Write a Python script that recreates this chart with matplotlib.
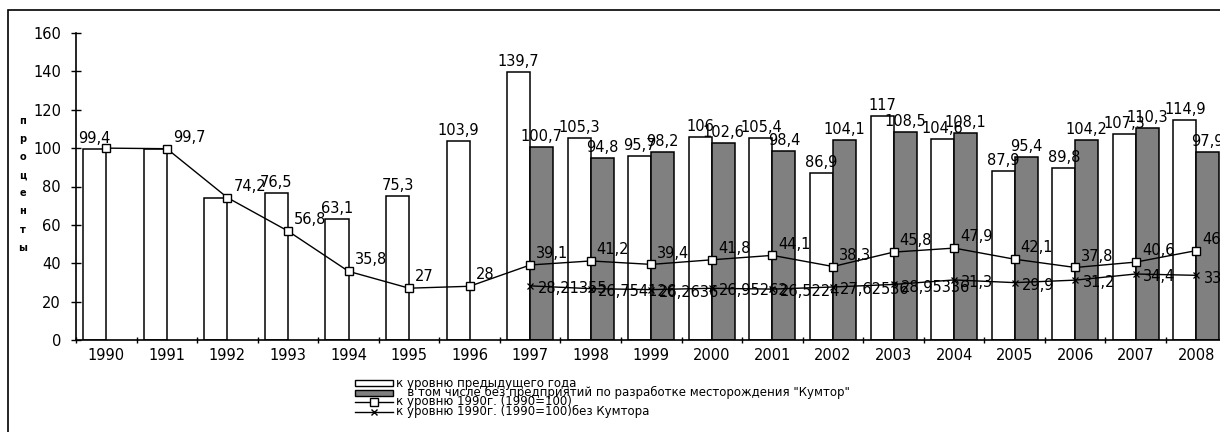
import numpy as np
import matplotlib
matplotlib.use('Agg')
import matplotlib.pyplot as plt
from matplotlib.patches import Rectangle
from matplotlib.lines import Line2D

plt.rcParams['font.family'] = 'DejaVu Sans'

# данные
years = ['1990', '1991', '1992', '1993', '1994', '1995', '1996', '1997', '1998', '1999',
         '2000', '2001', '2002', '2003', '2004', '2005', '2006', '2007', '2008']
prev_year = [99.4, 99.7, 74.2, 76.5, 63.1, 75.3, 103.9, 139.7, 105.3, 95.7,
             106.0, 105.4, 86.9, 117.0, 104.6, 87.9, 89.8, 107.3, 114.9]
prev_year_hidden = ['1991', '1992']          # подписи, которых нет на графике
kumtor_years = years[7:]
no_kumtor = [100.7, 94.8, 98.2, 102.6, 98.4, 104.1, 108.5, 108.1, 95.4, 104.2, 110.3, 97.9]
index_1990 = [100, 99.7, 74.2, 56.8, 35.8, 27, 28, 39.1, 41.2, 39.4,
              41.8, 44.1, 38.3, 45.8, 47.9, 42.1, 37.8, 40.6, 46.6]
index_hidden = ['1990']
index_no_kumtor = [28.21355, 26.754126, 26.2636, 26.95262, 26.5224, 27.62536,
                   28.95336, 31.3, 29.9, 31.2, 34.4, 33.7]


def fmt(v):
    return str(v).rstrip('0').rstrip('.').replace('.', ',') if '.' in str(v) else str(v)


W, H = 1220, 432
fig = plt.figure(figsize=(W / 100, H / 100), dpi=100)
ax = fig.add_axes([76 / W, 92 / H, 1150.6 / W, 307 / H])

x = np.arange(len(years))
xk = np.array([years.index(y) for y in kumtor_years])
bw = 0.38

ax.bar(x - bw / 2, prev_year, width=bw, facecolor='white', edgecolor='black', linewidth=1.1, zorder=2)
ax.bar(xk + bw / 2, no_kumtor, width=bw, facecolor='#808080', edgecolor='black', linewidth=1.1, zorder=2)
ax.plot(x, index_1990, color='black', lw=1, marker='s', markersize=5.5,
        markerfacecolor='white', markeredgecolor='black', markeredgewidth=1, zorder=4)
ax.plot(xk, index_no_kumtor, color='black', lw=1, marker='x', markersize=4,
        markeredgewidth=0.9, zorder=4)

# подписи данных
fs = 10.5
for xi, yr, v in zip(x, years, prev_year):
    if yr not in prev_year_hidden:
        ax.text(xi - bw / 2, v + 1.5, fmt(v), ha='center', va='bottom', fontsize=fs)
for xi, v in zip(xk, no_kumtor):
    ax.text(xi + bw / 2, v + 1.5, fmt(v), ha='center', va='bottom', fontsize=fs)
for xi, yr, v in zip(x, years, index_1990):
    if yr not in index_hidden:
        ax.text(xi + 0.1, v + 2, fmt(v), ha='left', va='bottom', fontsize=fs, zorder=5)
for xi, v in zip(xk, index_no_kumtor):
    ax.text(xi + 0.12, v + 2.5, fmt(v), ha='left', va='top', fontsize=fs, zorder=5)

# оси
ax.set_xlim(-0.5, len(years) - 0.5)
ax.set_ylim(0, 160)
ax.set_yticks(range(0, 161, 20))
ax.set_xticks(np.arange(len(years) + 1) - 0.5)
ax.set_xticklabels([])
ax.set_xticks(x, minor=True)
ax.set_xticklabels(years, minor=True)
ax.tick_params(axis='x', which='major', direction='inout', length=5, width=1)
ax.tick_params(axis='x', which='minor', length=0, pad=6, labelsize=fs)
ax.tick_params(axis='y', direction='inout', length=6.5, width=1, pad=7.5, labelsize=fs)
for s in ['top', 'right']:
    ax.spines[s].set_visible(False)
for s in ['left', 'bottom']:
    ax.spines[s].set_linewidth(1.2)
ax.patch.set_alpha(0)

# вертикальная подпись оси
for i, ch in enumerate('проценты'):
    fig.text(23 / W, 1 - (121 + i * 18.1) / H, ch, ha='center', va='center',
             fontsize=7, weight='bold')

# легенда
def fy(py):
    return 1 - py / H

rows = [383, 392.5, 402, 411.5]
fig.patches.append(Rectangle((355 / W, fy(rows[0] + 3)), 38 / W, 6 / H, transform=fig.transFigure,
                             facecolor='white', edgecolor='black', lw=1))
fig.patches.append(Rectangle((355 / W, fy(rows[1] + 3)), 38 / W, 6 / H, transform=fig.transFigure,
                             facecolor='#808080', edgecolor='black', lw=1))
fig.lines.append(Line2D([355 / W, 393 / W], [fy(rows[2])] * 2, transform=fig.transFigure,
                        color='black', lw=1))
fig.lines.append(Line2D([374 / W], [fy(rows[2])], transform=fig.transFigure, marker='s',
                        markersize=5.5, markerfacecolor='white', markeredgecolor='black', lw=0))
fig.lines.append(Line2D([355 / W, 393 / W], [fy(rows[3])] * 2, transform=fig.transFigure,
                        color='black', lw=1))
fig.lines.append(Line2D([374 / W], [fy(rows[3])], transform=fig.transFigure, marker='x',
                        markersize=4, color='black', lw=0))
legend_texts = ['к уровню предыдущего года',
                '   в том числе без предприятий по разработке месторождения "Кумтор"',
                'к уровню 1990г. (1990=100)',
                'к уровню 1990г. (1990=100)без Кумтора']
for py, t in zip(rows, legend_texts):
    fig.text(396 / W, fy(py), t, ha='left', va='center', fontsize=8.5)

# рамка
fig.patches.append(Rectangle((8 / W, -0.1), 1.2, fy(10) + 0.1, transform=fig.transFigure,
                             fill=False, edgecolor='black', lw=1.2))

fig.savefig('out.png', dpi=100, facecolor='white')
